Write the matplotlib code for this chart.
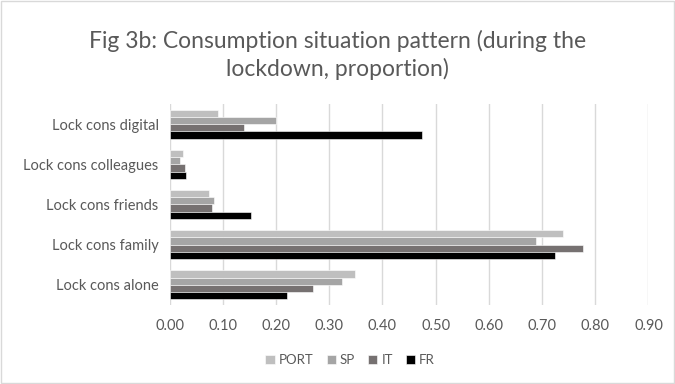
import numpy as np
import matplotlib.pyplot as plt
from matplotlib.patches import Rectangle

categories = ["Lock cons digital", "Lock cons colleagues", "Lock cons friends",
              "Lock cons family", "Lock cons alone"]
series_names = ["PORT", "SP", "IT", "FR"]
port = [0.091, 0.025, 0.073, 0.739, 0.348]
sp = [0.199, 0.019, 0.084, 0.688, 0.323]
it = [0.139, 0.029, 0.080, 0.776, 0.269]
fr = [0.475, 0.030, 0.152, 0.724, 0.220]
colors = ["#bfbfbf", "#a5a5a5", "#767171", "#000000"]

text_color = "#595959"
plt.rcParams["font.family"] = ["Lato", "DejaVu Sans"]

fig = plt.figure(figsize=(6.75, 3.84), dpi=100)
ax = fig.add_axes([0.2514, 0.206, 0.7093, 0.523])

y = np.arange(len(categories))
bar_h = 0.182
for i, (name, vals) in enumerate(zip(series_names, [port, sp, it, fr])):
    offs = (i - 1.5) * bar_h
    ax.barh(y + offs, vals, height=bar_h, color=colors[i], label=name,
            edgecolor="white", linewidth=0.4, zorder=3)

ax.set_xlim(0, 0.9)
ax.set_ylim(len(categories) - 0.5, -0.5)
ax.set_xticks(np.arange(0, 0.91, 0.1))
ax.set_xticklabels([f"{v:.2f}" for v in np.arange(0, 0.91, 0.1)])
ax.set_yticks(y)
ax.set_yticklabels(categories)
ax.tick_params(length=0, labelsize=10.5, colors=text_color, pad=8)
ax.tick_params(axis="x", pad=10)
ax.grid(axis="x", color="#d9d9d9", linewidth=1, zorder=0)
for s in ax.spines.values():
    s.set_visible(False)

fig.text(0.5, 0.857, "Fig 3b: Consumption situation pattern (during the\nlockdown, proportion)",
         ha="center", va="center", fontsize=16.5, color=text_color, linespacing=1.3)

leg = ax.legend(loc="center", bbox_to_anchor=(0.377, -0.274),
                ncol=4, frameon=False, fontsize=9.5, handlelength=0.7, handleheight=0.7,
                handletextpad=0.3, columnspacing=1.0, labelcolor=text_color)

fig.patches.append(Rectangle((0.002, 0.002), 0.996, 0.996, transform=fig.transFigure,
                             fill=False, edgecolor="#d9d9d9", linewidth=1))

fig.savefig("out.png", dpi=100)
